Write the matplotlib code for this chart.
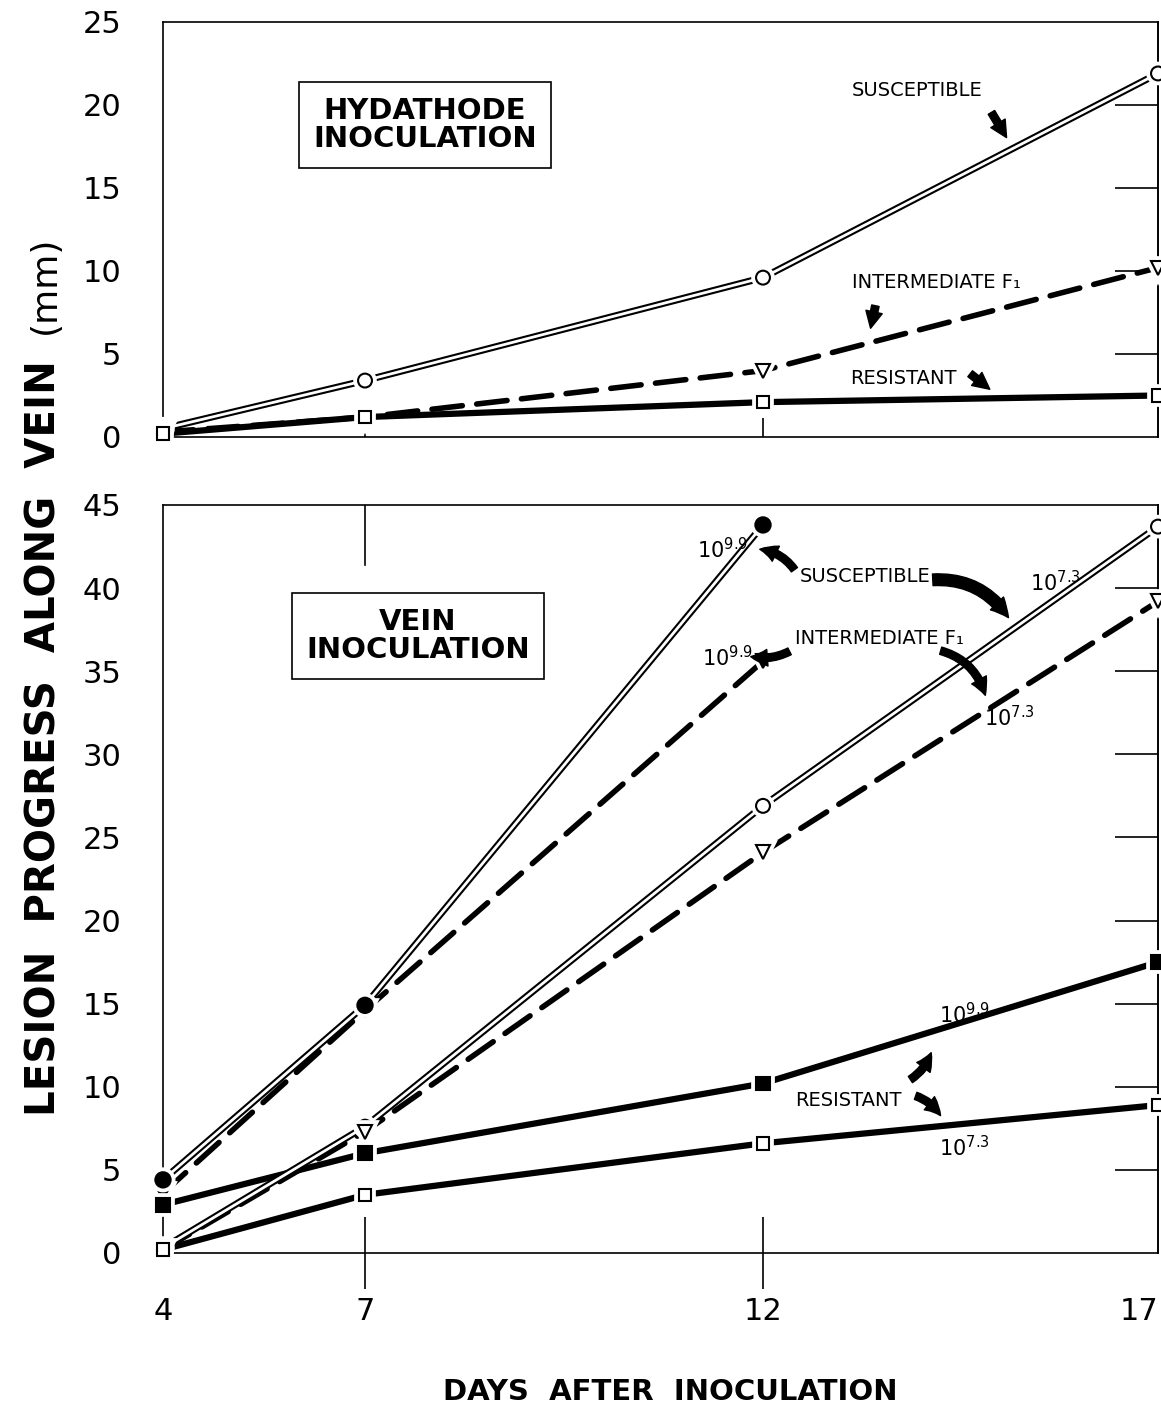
import numpy as np
import matplotlib
matplotlib.use("Agg")
import matplotlib.pyplot as plt
import matplotlib.patheffects as pe

# ---- data ----
days = [4, 7, 12, 17]
days_hi = [4, 7, 12]

# hydathode inoculation
hyd_susceptible = [0.5, 3.4, 9.6, 21.9]
hyd_intermediate = [0.3, 1.2, 4.0, 10.2]
hyd_resistant = [0.2, 1.2, 2.1, 2.5]

# vein inoculation, 10^9.9 and 10^7.3 inoculum
vein_susc_hi = [4.4, 14.9, 43.8]
vein_inter_hi = [3.6, 14.6, 35.6]
vein_susc_lo = [0.3, 7.6, 26.9, 43.7]
vein_inter_lo = [0.2, 7.3, 24.1, 39.2]
vein_res_hi = [2.9, 6.0, 10.2, 17.5]
vein_res_lo = [0.2, 3.5, 6.6, 8.9]

# hand drawn day axis is not quite linear
DAY_KNOTS = [3, 4, 7, 12, 17, 18]
POS_KNOTS = [-79, 0, 202, 600, 995, 1074]


def fwd(x):
    return np.interp(x, DAY_KNOTS, POS_KNOTS)


def inv(p):
    return np.interp(p, POS_KNOTS, DAY_KNOTS)


W, H = 1161, 1410
fig = plt.figure(figsize=(W / 100, H / 100), dpi=100)


def fp(x, y):
    # pixel position (from top-left) -> figure fraction
    return (x / W, 1 - y / H)


ax1 = fig.add_axes([163 / W, 1 - 437 / H, 995 / W, 415 / H])
ax2 = fig.add_axes([163 / W, 1 - 1253 / H, 995 / W, 748 / H])

for ax in (ax1, ax2):
    ax.set_xscale("function", functions=(fwd, inv))
    ax.set_xlim(4, 17)
    for s in ax.spines.values():
        s.set_linewidth(1.2)

ax1.set_ylim(0, 25)
ax2.set_ylim(0, 45)

double = [pe.Stroke(linewidth=5, foreground="black"), pe.Stroke(linewidth=2, foreground="white")]
halo = [pe.Stroke(linewidth=7, foreground="white"), pe.Normal()]
dash = dict(color="black", lw=4, dashes=(5.5, 2.6), dash_capstyle="round")
solid = dict(color="black", lw=4.5, solid_capstyle="round")


def marks(ax, x, y, m, filled, ms=10):
    ax.plot(x, y, ls="none", marker=m, ms=ms, mec="black", mew=1.5,
            mfc="black" if filled else "white", clip_on=False, zorder=5,
            path_effects=halo)


# ---- top panel ----
ax1.plot(days, hyd_resistant, **solid)
ax1.plot(days, hyd_intermediate, **dash)
ax1.plot(days, hyd_susceptible, color="white", lw=2, path_effects=double)
marks(ax1, days, hyd_susceptible, "o", False)
marks(ax1, days, hyd_intermediate, "v", False)
marks(ax1, days, hyd_resistant, "s", False, ms=9)

# ---- bottom panel ----
ax2.plot(days, vein_res_lo, **solid)
ax2.plot(days, vein_res_hi, **solid)
ax2.plot(days, vein_inter_lo, **dash)
ax2.plot(days_hi, vein_inter_hi, **dash)
ax2.plot(days, vein_susc_lo, color="white", lw=2, path_effects=double)
ax2.plot(days_hi, vein_susc_hi, color="white", lw=2, path_effects=double)
marks(ax2, days, vein_susc_lo, "o", False)
marks(ax2, days, vein_inter_lo, "v", False)
marks(ax2, days_hi, vein_inter_hi, "v", True)
marks(ax2, days_hi, vein_susc_hi, "o", True, ms=11)
marks(ax2, days, vein_res_lo, "s", False, ms=9)
marks(ax2, days, vein_res_hi, "s", True, ms=10)

# ---- ticks ----
for ax, top in ((ax1, 25), (ax2, 45)):
    ax.set_yticks(range(0, top + 1, 5))
    ax.set_yticklabels([str(v) for v in range(0, top + 1, 5)], fontsize=22)
    ax.tick_params(axis="y", which="major", length=0, pad=30)
    ax.set_yticks(range(5, top, 5), minor=True)
    ax.tick_params(axis="y", which="minor", direction="inout", length=52, width=1.2)
    sec = ax.secondary_yaxis("right")
    sec.set_yticks(range(5, top, 5))
    sec.tick_params(direction="in", length=31, width=1.2, labelright=False)
    sec.spines["right"].set_linewidth(1.2)
    ax.set_xticks(days)
    # no tick marks where the spines already are
    for t in (ax.xaxis.get_major_ticks()[0], ax.xaxis.get_major_ticks()[-1]):
        t.tick1line.set_visible(False)

ax1.tick_params(axis="x", direction="in", length=14, width=1.2, labelbottom=False)
ax2.tick_params(axis="x", direction="inout", length=52, width=1.2, pad=6, labelsize=22)
ax2.get_xticklabels()[-1].set_horizontalalignment("right")

# short mark at day 7 hanging from the top of the lower frame
ax2.axvline(7, ymin=0.92, ymax=1, color="black", lw=1.2)

# ---- axis labels ----
fig.text(*fp(45, 738), "LESION  PROGRESS  ALONG  VEIN", rotation=90, fontsize=29,
         fontweight="bold", ha="center", va="center")
fig.text(*fp(45, 285), "(mm)", rotation=90, fontsize=26, ha="center", va="center")
fig.text(*fp(670, 1392), "DAYS  AFTER  INOCULATION", fontsize=21, fontweight="bold",
         ha="center", va="center")

# ---- boxed titles ----
box = dict(boxstyle="square,pad=0.5", fc="white", ec="black", lw=1.2)
fig.text(*fp(425, 125), "HYDATHODE\nINOCULATION", fontsize=21, fontweight="bold",
         ha="center", va="center", linespacing=1.0, bbox=box)
fig.text(*fp(418, 636), "VEIN\nINOCULATION", fontsize=21, fontweight="bold",
         ha="center", va="center", linespacing=1.0, bbox=box)

# ---- curve labels ----
lab = dict(fontsize=14, va="center", ha="left")
fig.text(*fp(852, 90), "SUSCEPTIBLE", **lab)
fig.text(*fp(852, 283), "INTERMEDIATE F\u2081", **lab)
fig.text(*fp(850, 379), "RESISTANT", **lab)
fig.text(*fp(800, 577), "SUSCEPTIBLE", **lab)
fig.text(*fp(795, 638), "INTERMEDIATE F\u2081", **lab)
fig.text(*fp(795, 1100), "RESISTANT", **lab)

exp = dict(fontsize=15, va="center", ha="left")
fig.text(*fp(697, 550), r"$\mathregular{10^{9.9}}$", **exp)
fig.text(*fp(702, 658), r"$\mathregular{10^{9.9}}$", **exp)
fig.text(*fp(1030, 583), r"$\mathregular{10^{7.3}}$", **exp)
fig.text(*fp(984, 718), r"$\mathregular{10^{7.3}}$", **exp)
fig.text(*fp(939, 1015), r"$\mathregular{10^{9.9}}$", **exp)
fig.text(*fp(939, 1148), r"$\mathregular{10^{7.3}}$", **exp)


def arrow(tail, tip, rad=0.0, tw=0.45, hw=1.0):
    fig.add_artist(matplotlib.patches.FancyArrowPatch(
        fp(*tail), fp(*tip), transform=fig.transFigure,
        arrowstyle=f"simple,head_length={hw},head_width={hw},tail_width={tw}",
        connectionstyle=f"arc3,rad={rad}", color="black", mutation_scale=12))


arrow((990, 110), (1008, 140))
arrow((876, 303), (870, 331))
arrow((968, 372), (992, 391))
arrow((796, 572), (757, 549), rad=0.25)
arrow((930, 580), (1010, 620), rad=-0.3, tw=0.7, hw=1.1)
arrow((792, 650), (748, 656), rad=-0.2)
arrow((938, 650), (986, 698), rad=-0.3)
arrow((908, 1081), (932, 1050), rad=0.2)
arrow((913, 1095), (942, 1118), rad=-0.2)

fig.savefig("out.png", dpi=100)
